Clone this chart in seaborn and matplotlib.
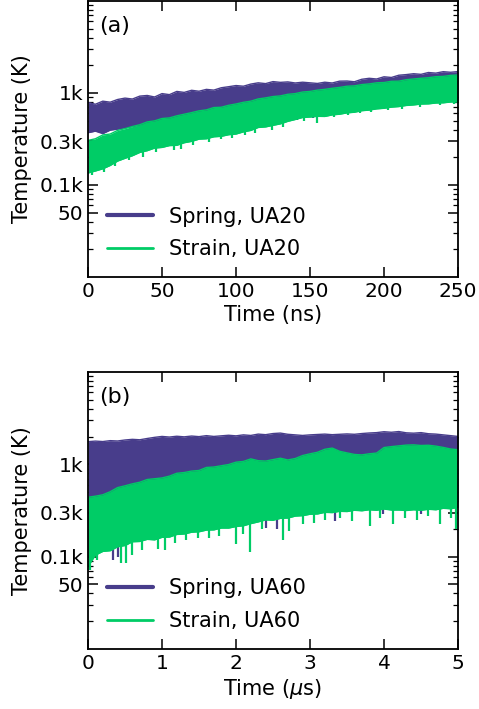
import numpy as np
import matplotlib
matplotlib.use("Agg")
import matplotlib.pyplot as plt
from matplotlib.ticker import FixedLocator, FixedFormatter, LogLocator, NullFormatter
import seaborn as sns

# ---------------- data ----------------
SPRING_COLOR = "#483D8B"
STRAIN_COLOR = "#00CC66"

# (a) UA20, time in ns
A_TIME = [0, 5, 10, 15, 20, 25, 30, 35, 40, 45, 50, 55, 60, 65, 70, 75, 80, 85, 90, 95,
          100, 105, 110, 115, 120, 125, 130, 135, 140, 145, 150, 155, 160, 165, 170, 175,
          180, 185, 190, 195, 200, 205, 210, 215, 220, 225, 230, 235, 240, 245, 250]
A_SPRING_HI = [790, 755, 815, 795, 850, 880, 860, 925, 940, 905, 985, 960, 1040, 1015, 1070,
               1045, 1095, 1075, 1140, 1170, 1205, 1185, 1250, 1290, 1265, 1330, 1305, 1320,
               1285, 1310, 1290, 1270, 1310, 1285, 1345, 1350, 1325, 1410, 1445, 1420, 1500,
               1475, 1560, 1585, 1620, 1595, 1670, 1645, 1705, 1680, 1710]
A_SPRING_LO = [370, 385, 362, 395, 405, 420, 432, 448, 460, 470, 480, 490, 500, 510, 520, 530,
               540, 545, 550, 555, 560, 570, 575, 580, 585, 590, 580, 565, 540, 555, 570, 580,
               590, 600, 615, 630, 645, 660, 675, 690, 705, 720, 735, 750, 765, 780, 790, 800,
               810, 820, 830]
A_STRAIN_HI = [305, 318, 350, 358, 392, 410, 432, 452, 485, 498, 528, 536, 565, 588, 612, 640,
               655, 695, 700, 735, 760, 792, 815, 862, 885, 915, 930, 968, 985, 1025, 1040,
               1075, 1095, 1125, 1150, 1185, 1195, 1235, 1255, 1290, 1300, 1340, 1345, 1395,
               1420, 1445, 1465, 1505, 1515, 1555, 1570]
A_STRAIN_LO = [135, 142, 150, 163, 182, 195, 208, 226, 236, 252, 256, 268, 270, 288, 298, 315,
               318, 334, 338, 352, 358, 378, 392, 422, 428, 445, 462, 492, 515, 542, 548, 558,
               556, 578, 588, 608, 618, 642, 652, 672, 682, 702, 712, 732, 742, 758, 762, 778,
               782, 798, 800]
# short downward excursions: (time, low, high)
A_SPRING_DIPS = [(141, 515, 600), (152, 530, 600)]
A_STRAIN_DIPS = [(3, 128, 160), (11, 140, 170), (18, 160, 200), (28, 188, 230), (37, 200, 260),
                 (46, 228, 270), (58, 240, 300), (63, 245, 300), (71, 275, 320), (82, 290, 340),
                 (90, 315, 360), (97, 325, 380), (106, 350, 400), (113, 370, 430),
                 (124, 400, 460), (132, 425, 480), (146, 500, 560), (155, 475, 560),
                 (166, 545, 600), (176, 580, 640), (184, 600, 660), (191, 620, 680),
                 (203, 650, 710), (212, 670, 730), (224, 710, 770), (238, 740, 800),
                 (247, 750, 810)]

# (b) UA60, time in microseconds
B_TIME = [0.0, 0.1, 0.2, 0.3, 0.4, 0.5, 0.6, 0.7, 0.8, 0.9, 1.0, 1.1, 1.2, 1.3, 1.4, 1.5, 1.6,
          1.7, 1.8, 1.9, 2.0, 2.1, 2.2, 2.3, 2.4, 2.5, 2.6, 2.7, 2.8, 2.9, 3.0, 3.1, 3.2, 3.3,
          3.4, 3.5, 3.6, 3.7, 3.8, 3.9, 4.0, 4.1, 4.2, 4.3, 4.4, 4.5, 4.6, 4.7, 4.8, 4.9, 5.0]
B_SPRING_HI = [1760, 1785, 1765, 1805, 1790, 1835, 1865, 1845, 1905, 1960, 2005, 1975, 2015,
               1985, 2025, 1995, 2045, 2005, 2035, 2065, 2035, 2085, 2055, 2125, 2095, 2155,
               2180, 2115, 2085, 2055, 2085, 2105, 2125, 2095, 2115, 2135, 2115, 2155, 2185,
               2205, 2255, 2225, 2265, 2195, 2175, 2205, 2145, 2125, 2085, 2045, 2005]
B_SPRING_LO = [100, 125, 130, 136, 145, 155, 165, 170, 175, 178, 184, 190, 198, 205, 210, 216,
               221, 227, 232, 237, 242, 250, 259, 276, 285, 290, 297, 304, 313, 322, 328, 336,
               345, 351, 354, 359, 363, 366, 368, 370, 374, 370, 366, 366, 368, 370, 374, 377,
               382, 386, 391]
B_STRAIN_HI = [440, 452, 468, 505, 560, 585, 615, 640, 685, 698, 712, 745, 800, 815, 845, 858,
               925, 935, 965, 995, 1055, 1075, 1145, 1095, 1085, 1125, 1165, 1115, 1155, 1245,
               1300, 1350, 1455, 1500, 1385, 1330, 1280, 1265, 1300, 1325, 1520, 1555, 1585,
               1615, 1625, 1600, 1610, 1575, 1525, 1465, 1440]
B_STRAIN_LO = [78, 104, 114, 116, 128, 132, 145, 146, 154, 152, 162, 163, 174, 176, 184, 186,
               194, 195, 204, 204, 212, 216, 228, 238, 250, 248, 260, 262, 275, 278, 288, 290,
               302, 300, 310, 308, 318, 314, 322, 318, 328, 320, 320, 316, 322, 318, 326, 322,
               334, 330, 342]
B_SPRING_DIPS = [(0.34, 93, 150), (0.41, 98, 150), (2.40, 205, 260), (2.56, 200, 270),
                 (3.34, 245, 320), (3.98, 290, 340), (4.50, 290, 340)]
B_STRAIN_DIPS = [(0.03, 72, 110), (0.12, 92, 120), (0.45, 86, 140), (0.52, 85, 145),
                 (0.60, 105, 150), (0.73, 118, 155), (0.95, 122, 165), (1.04, 118, 170),
                 (1.18, 140, 180), (1.32, 150, 185), (1.48, 158, 195), (1.63, 160, 200),
                 (1.77, 168, 205), (2.00, 138, 215), (2.10, 175, 225), (2.19, 112, 230),
                 (2.35, 200, 250), (2.64, 150, 265), (2.72, 190, 270), (2.90, 225, 285),
                 (3.05, 230, 295), (3.20, 250, 305), (3.40, 260, 315), (3.57, 245, 320),
                 (3.81, 215, 325), (3.95, 265, 330), (4.12, 225, 330), (4.28, 265, 325),
                 (4.45, 250, 328), (4.60, 275, 332), (4.76, 228, 336), (4.90, 260, 340),
                 (4.97, 200, 345)]

Y_TICKS = [50, 100, 300, 1000]
Y_TICK_LABELS = ["50", "0.1k", "0.3k", "1k"]

# ---------------- style ----------------
sns.set_style("ticks")
plt.rcParams.update({
    "font.family": ["DejaVu Sans"],
    "text.color": "black", "axes.labelcolor": "black",
    "xtick.color": "black", "ytick.color": "black",
    "axes.edgecolor": "black",
    "axes.linewidth": 1.3,
    "xtick.direction": "in", "ytick.direction": "in",
    "xtick.top": True, "ytick.right": True,
    "xtick.major.size": 7, "ytick.major.size": 7,
    "ytick.minor.size": 3.5,
    "xtick.major.width": 1.1, "ytick.major.width": 1.1,
    "ytick.minor.width": 0.9,
    "xtick.labelsize": 14.5, "ytick.labelsize": 14.5,
    "axes.labelsize": 15,
})

fig = plt.figure(figsize=(4.79, 7.09), dpi=100)
W, H = 479.0, 709.0
ax_a = fig.add_axes([88 / W, (H - 277) / H, 370 / W, 276 / H])
ax_b = fig.add_axes([88 / W, (H - 649) / H, 370 / W, 277 / H])


def draw_band(ax, t, lo, hi, dips, color, label, z):
    ax.fill_between(t, lo, hi, color=color, lw=0, zorder=z)
    sns.lineplot(x=t, y=hi, ax=ax, color=color, lw=1.0, label=label, zorder=z + 0.1)
    sns.lineplot(x=t, y=lo, ax=ax, color=color, lw=1.0, legend=False, zorder=z + 0.1)
    if dips:
        dt, dlo, dhi = zip(*dips)
        ax.vlines(dt, dlo, dhi, color=color, lw=1.6, zorder=z + 0.2)


def finish(ax, xlim, xticks, xlabel, tag):
    ax.set_yscale("log")
    ax.set_ylim(10, 10000)
    ax.set_xlim(*xlim)
    ax.set_xticks(xticks)
    ax.yaxis.set_major_locator(FixedLocator(Y_TICKS))
    ax.yaxis.set_major_formatter(FixedFormatter(Y_TICK_LABELS))
    ax.yaxis.set_minor_locator(LogLocator(base=10, subs=np.arange(2, 10)))
    ax.yaxis.set_minor_formatter(NullFormatter())
    ax.set_xlabel(xlabel, labelpad=3)
    ax.set_ylabel("Temperature (K)", labelpad=5)
    ax.text(0.03, 0.91, tag, transform=ax.transAxes, fontsize=16, va="center", ha="left",
            zorder=5)
    leg = ax.legend(loc="lower left", bbox_to_anchor=(0.03, 0.035), frameon=False,
                    fontsize=15, handlelength=2.2, handletextpad=0.75, labelspacing=0.6,
                    borderaxespad=0, borderpad=0.4)
    for h, lw in zip(leg.legend_handles, [3.0, 2.0]):
        h.set_linewidth(lw)
    for s in ax.spines.values():
        s.set_color("black")
        s.set_zorder(6)


draw_band(ax_a, A_TIME, A_SPRING_LO, A_SPRING_HI, A_SPRING_DIPS, SPRING_COLOR,
          "Spring, UA20", 1)
draw_band(ax_a, A_TIME, A_STRAIN_LO, A_STRAIN_HI, A_STRAIN_DIPS, STRAIN_COLOR,
          "Strain, UA20", 2)
finish(ax_a, (0, 250), [0, 50, 100, 150, 200, 250], "Time (ns)", "(a)")

draw_band(ax_b, B_TIME, B_SPRING_LO, B_SPRING_HI, B_SPRING_DIPS, SPRING_COLOR,
          "Spring, UA60", 1)
draw_band(ax_b, B_TIME, B_STRAIN_LO, B_STRAIN_HI, B_STRAIN_DIPS, STRAIN_COLOR,
          "Strain, UA60", 2)
finish(ax_b, (0, 5), [0, 1, 2, 3, 4, 5], r"Time ($\mu$s)", "(b)")

fig.savefig("out.png", dpi=100)
